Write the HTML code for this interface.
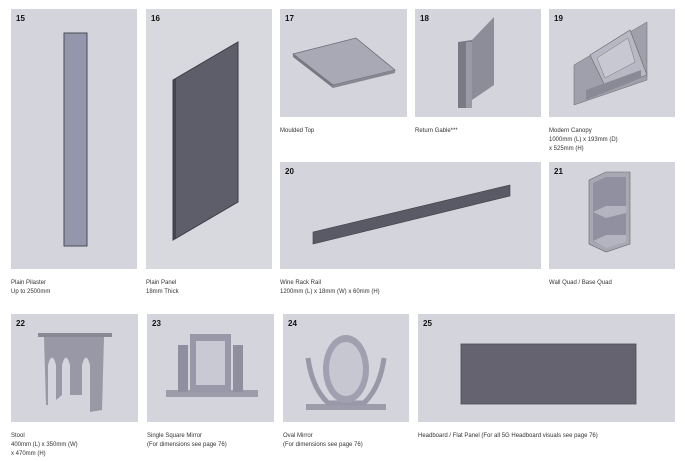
<!DOCTYPE html>
<html><head><style>
html,body{margin:0;padding:0;background:#fff;}
body{width:685px;height:462px;overflow:hidden;position:relative;font-family:"Liberation Sans",sans-serif;}
svg{position:absolute;left:0;top:0;}
text{font-family:"Liberation Sans",sans-serif;}
.n{font-size:8px;font-weight:bold;fill:#111;}
.c{font-size:6px;fill:#333;}
.p{fill:#d4d4dc;}
</style></head><body>
<svg width="685" height="462" viewBox="0 0 685 462">
<rect class="p" x="11" y="9" width="126" height="260"/>
<rect x="146" y="9" width="126" height="260" fill="#d8d9df"/>
<rect class="p" x="280" y="9" width="127" height="108"/>
<rect class="p" x="415" y="9" width="126" height="108"/>
<rect class="p" x="549" y="9" width="126" height="108"/>
<rect class="p" x="280" y="162" width="261" height="107"/>
<rect class="p" x="549" y="162" width="126" height="107"/>
<rect class="p" x="11" y="314" width="127" height="108"/>
<rect class="p" x="147" y="314" width="127" height="108"/>
<rect class="p" x="283" y="314" width="126" height="108"/>
<rect class="p" x="418" y="314" width="257" height="108"/>
<text class="n" x="16" y="21">15</text><text class="n" x="151" y="21">16</text>
<text class="n" x="285" y="21">17</text><text class="n" x="420" y="21">18</text>
<text class="n" x="554" y="21">19</text><text class="n" x="285" y="174">20</text>
<text class="n" x="554" y="174">21</text><text class="n" x="16" y="326">22</text>
<text class="n" x="152" y="326">23</text><text class="n" x="288" y="326">24</text>
<text class="n" x="423" y="326">25</text>
<rect x="64" y="33" width="23" height="213" fill="#9497ab" stroke="#4a4a55" stroke-width="1"/>
<polygon points="173,80 238,42 238,202 173,240" fill="#5e5e6a" stroke="#3b3b45" stroke-width="1"/>
<polygon points="173,80 176,78 176,238 173,240" fill="#444450"/>
<polygon points="293,54 356,38 395,70 333,85" fill="#a9a9b6" stroke="#6a6a75" stroke-width="0.8"/>
<polygon points="293,54 333,85 333,88 293,57" fill="#7a7a85"/>
<polygon points="333,85 395,70 395,73 333,88" fill="#888893"/>
<polygon points="472,40 494,17 494,85 472,100" fill="#8d8d99"/>
<polygon points="458,42 472,40 472,108 458,108" fill="#7a7a86"/>
<rect x="466" y="42" width="6" height="66" fill="#9a9aa6"/>
<!-- 19 canopy -->
<polygon points="574,65 647,22 647,80 574,105" fill="#a0a0ad" stroke="#666" stroke-width="0.5"/>
<polygon points="590,55 630,30 647,75 607,90" fill="#b8b8c4" stroke="#666" stroke-width="0.6"/>
<polygon points="597,58 628,38 635,62 605,78" fill="#c8c8d2" stroke="#777" stroke-width="0.5"/>
<polygon points="586,90 641,70 641,78 586,100" fill="#8a8a96"/>
<polygon points="313,232 510,185 510,196 313,244" fill="#5a5a66" stroke="#3e3e48" stroke-width="0.6"/>
<!-- 21 quad -->
<polygon points="589,180 606,172 630,172 630,244 606,252 589,244" fill="#a8a8b5" stroke="#666" stroke-width="0.6"/>
<polygon points="593,183 606,177 626,177 626,242 606,248 593,242" fill="#9090a0"/>
<polygon points="593,212 606,206 626,206 626,213 606,218" fill="#b4b4c0"/>
<polygon points="593,241 606,235 626,235 626,242 606,248" fill="#b4b4c0"/>
<!-- 22 stool -->
<rect x="38" y="333" width="74" height="4" fill="#8a8a96"/>
<path d="M44,337 H104 L102,410 L90,412 V365 Q86,350 82,365 V395 H70 V365 Q66,350 62,365 V395 L56,400 V365 Q52,350 48,365 V405 L46,405 Z" fill="#9898a6"/>
<!-- 23 -->
<rect x="166" y="390" width="92" height="7" fill="#9c9cab"/>
<rect x="178" y="345" width="10" height="47" fill="#8f8fa0"/>
<rect x="233" y="345" width="10" height="47" fill="#8f8fa0"/>
<rect x="190" y="334" width="41" height="58" fill="#9898a8"/>
<rect x="196" y="341" width="29" height="44" fill="#c8c9d3"/>
<!-- 24 -->
<rect x="306" y="404" width="80" height="6" fill="#9c9cab"/>
<path d="M308,358 q4,30 20,45 h36 q16,-15 20,-45" fill="none" stroke="#9898a8" stroke-width="5"/>
<ellipse cx="346" cy="369" rx="23" ry="34" fill="#a0a0b0"/>
<ellipse cx="346" cy="369" rx="17" ry="27" fill="#c6c7d1"/>
<rect x="461" y="344" width="175" height="60" fill="#64636f" stroke="#4a4a55" stroke-width="0.8"/>
<text class="c" x="11" y="284">Plain Pilaster</text><text class="c" x="11" y="293">Up to 2500mm</text>
<text class="c" x="146" y="284">Plain Panel</text><text class="c" x="146" y="293">18mm Thick</text>
<text class="c" x="280" y="132">Moulded Top</text>
<text class="c" x="415" y="132">Return Gable***</text>
<text class="c" x="549" y="132">Modern Canopy</text>
<text class="c" x="549" y="141">1000mm (L) x 193mm (D)</text>
<text class="c" x="549" y="150">x 525mm (H)</text>
<text class="c" x="280" y="284">Wine Rack Rail</text>
<text class="c" x="280" y="293">1200mm (L) x 18mm (W) x 60mm (H)</text>
<text class="c" x="549" y="284">Wall Quad / Base Quad</text>
<text class="c" x="11" y="437">Stool</text>
<text class="c" x="11" y="446">400mm (L) x 350mm (W)</text>
<text class="c" x="11" y="455">x 470mm (H)</text>
<text class="c" x="147" y="437">Single Square Mirror</text>
<text class="c" x="147" y="446">(For dimensions see page 76)</text>
<text class="c" x="283" y="437">Oval Mirror</text>
<text class="c" x="283" y="446">(For dimensions see page 76)</text>
<text class="c" x="418" y="437">Headboard / Flat Panel (For all 5G Headboard visuals see page 76)</text>
</svg>
</body></html>
